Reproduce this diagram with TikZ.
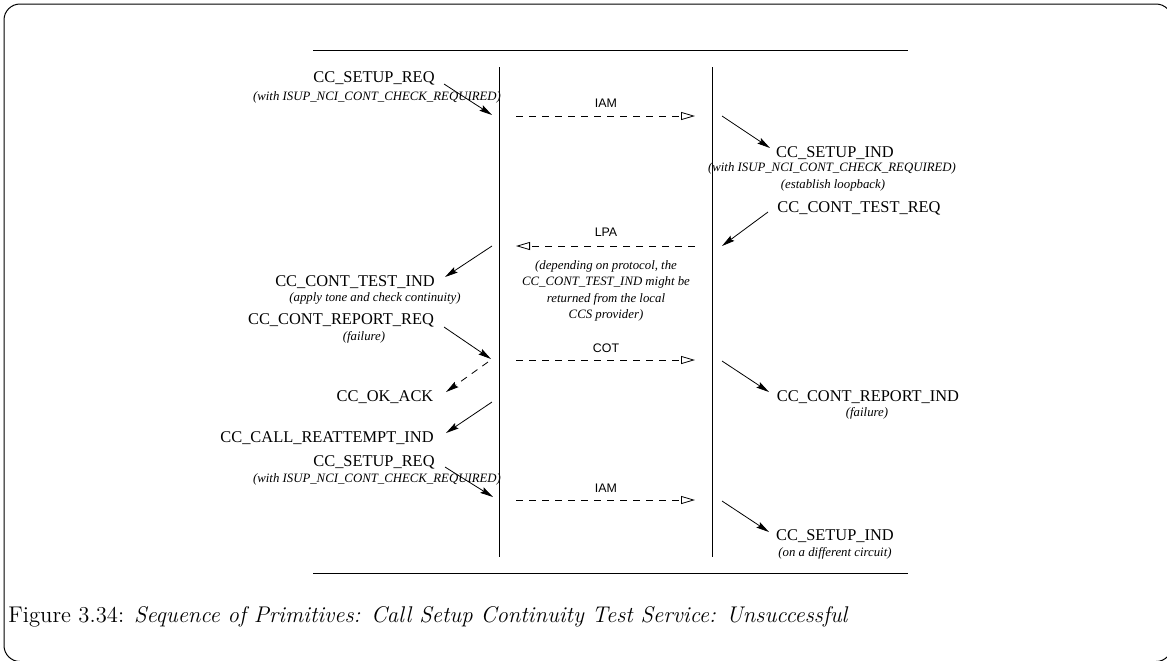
\documentclass[tikz,border=0pt]{standalone}
\usepackage{fontspec}
\newfontfamily\timesf{Liberation Serif}
\newfontfamily\helvf{Liberation Sans}
\usetikzlibrary{arrows.meta,positioning}

\begin{document}
\begin{tikzpicture}[x=0.5pt,y=-0.5pt,
    prim/.style={font=\timesf\fontsize{8.2}{9}\selectfont, inner sep=0pt},
    note/.style={font=\timesf\itshape\fontsize{6.4}{8.15}\selectfont, inner sep=0pt, align=center},
    msg/.style={font=\helvf\fontsize{6.2}{7}\selectfont, inner sep=0pt},
    call/.style={-{Stealth[length=6.5pt,width=3.2pt,inset=1pt]}, line width=0.4pt},
    sig/.style={dash pattern=on 3.5pt off 3pt, -{Triangle[open,length=7pt,width=4pt]}, line width=0.4pt}]
    \useasboundingbox (0,0) rectangle (1167,660);
    % frame
    \draw[line width=0.5pt, rounded corners=8pt] (4,4) rectangle (1172,661.5);
    % rules and the two sides
    \draw[line width=0.5pt] (313,50) -- (908,50);
    \draw[line width=0.5pt] (313,573) -- (908,573);
    \coordinate (lt) at (499,67);
    \coordinate (lb) at (499,557);
    \coordinate (rt) at (712,67);
    \coordinate (rb) at (712,557);
    \draw[line width=0.5pt] (lt) -- (lb);
    \draw[line width=0.5pt] (rt) -- (rb);

    % first setup attempt
    \node[prim] (setreqA) at (374,78) {CC\_SETUP\_REQ};
    \node[note] (setreqAn) at (377,97) {(with ISUP\_NCI\_CONT\_CHECK\_REQUIRED)};
    \coordinate (a1s) at (444,84);
    \coordinate (a1e) at (492,115);
    \draw[call] (a1s) -- (a1e);
    \coordinate (m1s) at (516,116);
    \coordinate (m1e) at (695,116);
    \draw[sig] (m1s) -- (m1e);
    \node[msg] (iamA) at (606,103) {IAM};
    \coordinate (a2s) at (722,116);
    \coordinate (a2e) at (770,148);
    \draw[call] (a2s) -- (a2e);
    \node[prim] (setindA) at (835,153) {CC\_SETUP\_IND};
    \node[note] (setindAn) at (832,168) {(with ISUP\_NCI\_CONT\_CHECK\_REQUIRED)};
    \node[note] (loopn) at (833,185) {(establish loopback)};

    % continuity test
    \node[prim] (ctreq) at (859,208) {CC\_CONT\_TEST\_REQ};
    \coordinate (a3s) at (768,212);
    \coordinate (a3e) at (722,246);
    \draw[call] (a3s) -- (a3e);
    \coordinate (m2s) at (695,246);
    \coordinate (m2e) at (516,246);
    \draw[sig] (m2s) -- (m2e);
    \node[msg] (lpa) at (606,232) {LPA};
    \coordinate (a4s) at (492,246);
    \coordinate (a4e) at (445,277);
    \draw[call] (a4s) -- (a4e);
    \node[prim] (ctind) at (355,282) {CC\_CONT\_TEST\_IND};
    \node[note] (ctindn) at (375,298) {(apply tone and check continuity)};
    \node[note] (depn) at (606,291) {(depending on protocol, the\\CC\_CONT\_TEST\_IND might be\\returned from the local\\CCS provider)};

    % failure report
    \node[prim] (crreq) at (341,320) {CC\_CONT\_REPORT\_REQ};
    \node[note] (failA) at (364,337) {(failure)};
    \coordinate (a5s) at (444,327);
    \coordinate (a5e) at (491,359);
    \draw[call] (a5s) -- (a5e);
    \coordinate (m3s) at (516,360);
    \coordinate (m3e) at (695,360);
    \draw[sig] (m3s) -- (m3e);
    \node[msg] (cot) at (606,348) {COT};
    \coordinate (a6s) at (488,362);
    \coordinate (a6e) at (446,392);
    \draw[call, dash pattern=on 3.5pt off 3pt] (a6s) -- (a6e);
    \node[prim] (okack) at (385,397) {CC\_OK\_ACK};
    \coordinate (a7s) at (722,361);
    \coordinate (a7e) at (769,392);
    \draw[call] (a7s) -- (a7e);
    \node[prim] (crind) at (868,397) {CC\_CONT\_REPORT\_IND};
    \node[note] (failB) at (867,413) {(failure)};
    \coordinate (a8s) at (492,402);
    \coordinate (a8e) at (446,433);
    \draw[call] (a8s) -- (a8e);
    \node[prim] (reatt) at (327,438) {CC\_CALL\_REATTEMPT\_IND};

    % second setup attempt
    \node[prim] (setreqB) at (374,462) {CC\_SETUP\_REQ};
    \node[note] (setreqBn) at (377,479) {(with ISUP\_NCI\_CONT\_CHECK\_REQUIRED)};
    \coordinate (a9s) at (445,467);
    \coordinate (a9e) at (493,497);
    \draw[call] (a9s) -- (a9e);
    \coordinate (m4s) at (516,500);
    \coordinate (m4e) at (695,500);
    \draw[sig] (m4s) -- (m4e);
    \node[msg] (iamB) at (606,488) {IAM};
    \coordinate (a10s) at (722,501);
    \coordinate (a10e) at (769,532);
    \draw[call] (a10s) -- (a10e);
    \node[prim] (setindB) at (835,536) {CC\_SETUP\_IND};
    \node[note] (setindBn) at (835,553) {(on a different circuit)};

    % caption
    \node[anchor=base west, inner sep=0pt, font=\fontsize{11.35}{13}\selectfont] (cap) at (8,622)
        {Figure 3.34: \textit{Sequence of Primitives: Call Setup Continuity Test Service: Unsuccessful}};
\end{tikzpicture}
\end{document}
